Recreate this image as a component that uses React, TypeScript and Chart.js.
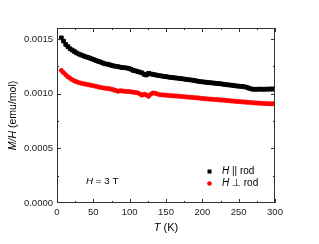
import React, { useEffect, useRef } from "react";
import { Chart, registerables } from "chart.js";

Chart.register(...registerables);

const temps = [6, 9, 12, 15, 18, 21, 24, 27, 30, 33, 36, 39, 42, 45, 48, 51, 54, 57, 60, 63, 66, 69, 72, 75, 78, 81, 84, 87, 90, 93, 96, 99, 102, 105, 108, 111, 114, 117, 120, 123, 126, 129, 132, 135, 138, 141, 144, 147, 150, 153, 156, 159, 162, 165, 168, 171, 174, 177, 180, 183, 186, 189, 192, 195, 198, 201, 204, 207, 210, 213, 216, 219, 222, 225, 228, 231, 234, 237, 240, 243, 246, 249, 252, 255, 258, 261, 264, 267, 270, 273, 276, 279, 282, 285, 288, 291, 294, 297, 300];

const parallelRod = [0.00151, 0.00148, 0.00145, 0.00143, 0.00141, 0.001398, 0.001385, 0.001372, 0.001362, 0.001354, 0.001346, 0.001338, 0.001332, 0.001325, 0.001318, 0.00131, 0.001302, 0.001295, 0.001288, 0.00128, 0.001272, 0.00127, 0.001265, 0.001258, 0.001253, 0.00125, 0.001246, 0.001242, 0.001238, 0.001237, 0.001234, 0.00123, 0.001222, 0.001212, 0.001208, 0.001202, 0.001196, 0.00119, 0.001176, 0.00117, 0.001186, 0.00118, 0.001176, 0.001172, 0.001168, 0.001164, 0.001161, 0.001158, 0.001155, 0.001152, 0.001149, 0.001147, 0.001144, 0.001142, 0.00114, 0.001137, 0.001134, 0.001131, 0.001128, 0.001126, 0.001123, 0.00112, 0.001116, 0.001112, 0.001109, 0.001107, 0.001105, 0.001102, 0.0011, 0.001098, 0.001096, 0.001094, 0.001092, 0.00109, 0.001087, 0.001084, 0.001081, 0.001079, 0.001077, 0.001074, 0.001071, 0.001069, 0.001067, 0.001066, 0.001062, 0.001058, 0.00105, 0.001044, 0.00104, 0.00104, 0.00104, 0.001041, 0.00104, 0.00104, 0.001041, 0.001041, 0.001042, 0.001042, 0.001043];

const perpRod = [0.001212, 0.001192, 0.001172, 0.001154, 0.00114, 0.001128, 0.001116, 0.001108, 0.001101, 0.001096, 0.001091, 0.001087, 0.001083, 0.001079, 0.001075, 0.001071, 0.001066, 0.001061, 0.001057, 0.001053, 0.00105, 0.001047, 0.001044, 0.00104, 0.001035, 0.001028, 0.001022, 0.001026, 0.001025, 0.001021, 0.00102, 0.001019, 0.001016, 0.001013, 0.00101, 0.001007, 0.000998, 0.000986, 0.000995, 0.000988, 0.000976, 0.000995, 0.001006, 0.001003, 0.000996, 0.000991, 0.000989, 0.000987, 0.000986, 0.000984, 0.000982, 0.00098, 0.000979, 0.000978, 0.000976, 0.000974, 0.000973, 0.00097, 0.000968, 0.000967, 0.000965, 0.000963, 0.000962, 0.00096, 0.000957, 0.000955, 0.000954, 0.000952, 0.00095, 0.000949, 0.000947, 0.000946, 0.000944, 0.000942, 0.000941, 0.00094, 0.000937, 0.000935, 0.000933, 0.000931, 0.000929, 0.000928, 0.000926, 0.000925, 0.000923, 0.000921, 0.00092, 0.000918, 0.000917, 0.000915, 0.000914, 0.000912, 0.000911, 0.00091, 0.000909, 0.000908, 0.000907, 0.000907, 0.000906];

const xTicks = [0, 50, 100, 150, 200, 250, 300];
const yTicks = [0, 0.0005, 0.001, 0.0015];
const legendLabels = [" || rod", " \u22a5 rod"];
const fieldLabel = " = 3 T";

const FONT = "'Liberation Sans', Arial, sans-serif";

function drawMixed(ctx: CanvasRenderingContext2D, parts: [string, boolean][], x: number, y: number, size: number, align: "left" | "center") {
  let total = 0;
  for (const [t, it] of parts) {
    ctx.font = `${it ? "italic " : ""}${size}px ${FONT}`;
    total += ctx.measureText(t).width;
  }
  let cx = align === "center" ? x - total / 2 : x;
  for (const [t, it] of parts) {
    ctx.font = `${it ? "italic " : ""}${size}px ${FONT}`;
    ctx.textAlign = "left";
    ctx.textBaseline = "middle";
    ctx.fillText(t, cx, y);
    cx += ctx.measureText(t).width;
  }
}

const framePlugin = {
  id: "frame",
  afterDraw(chart: any) {
    const { ctx, chartArea: a, scales } = chart;
    const xs = scales.x;
    const ys = scales.y;
    ctx.save();
    ctx.strokeStyle = "#333";
    ctx.lineWidth = 1;
    ctx.strokeRect(Math.round(a.left) + 0.5, Math.round(a.top) + 0.5, Math.round(a.right - a.left) - 1, Math.round(a.bottom - a.top) - 1);
    ctx.beginPath();
    const xMin: number[] = [];
    for (let i = 0; i < xTicks.length - 1; i++) xMin.push((xTicks[i] + xTicks[i + 1]) / 2);
    const yMin: number[] = [];
    for (let i = 0; i < yTicks.length; i++) yMin.push(yTicks[i] + 0.00025);
    const drawX = (v: number, len: number) => {
      const px = Math.round(xs.getPixelForValue(v)) + 0.5;
      ctx.moveTo(px, a.bottom);
      ctx.lineTo(px, a.bottom - len);
      ctx.moveTo(px, a.top);
      ctx.lineTo(px, a.top + len);
    };
    const drawY = (v: number, len: number) => {
      const py = Math.round(ys.getPixelForValue(v)) + 0.5;
      if (py < a.top || py > a.bottom) return;
      ctx.moveTo(a.left, py);
      ctx.lineTo(a.left + len, py);
      ctx.moveTo(a.right, py);
      ctx.lineTo(a.right - len, py);
    };
    xTicks.forEach((v) => drawX(v, 4));
    xMin.forEach((v) => drawX(v, 2));
    yTicks.forEach((v) => drawY(v, 4));
    yMin.forEach((v) => drawY(v, 2));
    ctx.stroke();

    ctx.fillStyle = "#000";
    drawMixed(ctx, [["T", true], [" (K)", false]], (a.left + a.right) / 2, 228, 11, "center");
    ctx.save();
    ctx.translate(13, (a.top + a.bottom) / 2);
    ctx.rotate(-Math.PI / 2);
    drawMixed(ctx, [["M/H", true], [" (emu/mol)", false]], 0, 0, 10.5, "center");
    ctx.restore();

    ctx.fillStyle = "#000";
    ctx.fillRect(207.5, 169.5, 4, 4);
    ctx.beginPath();
    ctx.fillStyle = "#ff0000";
    ctx.arc(209.5, 183.5, 2.3, 0, Math.PI * 2);
    ctx.fill();
    ctx.fillStyle = "#000";
    drawMixed(ctx, [["H", true], [legendLabels[0], false]], 222, 171.5, 10, "left");
    drawMixed(ctx, [["H", true], [legendLabels[1], false]], 222, 183.5, 10, "left");
    drawMixed(ctx, [["H", true], [fieldLabel, false]], 86, 181, 9.8, "left");
    ctx.restore();
  },
};

export default function App() {
  const ref = useRef<HTMLCanvasElement | null>(null);
  useEffect(() => {
    if (!ref.current) return;
    const chart = new Chart(ref.current, {
      type: "line",
      data: {
        datasets: [
          {
            label: "H || rod",
            data: temps.map((t, i) => ({ x: t, y: parallelRod[i] })),
            showLine: false,
            pointStyle: "rect",
            pointRadius: 2.6,
            borderWidth: 1,
            backgroundColor: "#000",
            borderColor: "#000",
          },
          {
            label: "H \u22a5 rod",
            data: temps.map((t, i) => ({ x: t, y: perpRod[i] })),
            showLine: false,
            pointStyle: "circle",
            pointRadius: 2.2,
            borderWidth: 0.5,
            backgroundColor: "#ff0000",
            borderColor: "#ff0000",
          },
        ],
      },
      options: {
        animation: false,
        responsive: true,
        maintainAspectRatio: false,
        layout: { padding: { top: 28, right: 44, left: 0, bottom: 0 } },
        plugins: { legend: { display: false }, tooltip: { enabled: false } },
        scales: {
          x: {
            type: "linear",
            min: 0,
            max: 300,
            afterBuildTicks: (s: any) => {
              s.ticks = xTicks.map((v) => ({ value: v }));
            },
            afterFit: (s: any) => {
              s.height = 41;
            },
            grid: { display: false, drawTicks: false, tickLength: 0 },
            border: { display: false },
            ticks: {
              padding: 4,
              maxRotation: 0,
              autoSkip: false,
              color: "#222",
              font: { family: FONT, size: 9.5 },
            },
          },
          y: {
            type: "linear",
            min: 0,
            max: 0.0016,
            afterBuildTicks: (s: any) => {
              s.ticks = yTicks.map((v) => ({ value: v }));
            },
            afterFit: (s: any) => {
              s.width = 57;
            },
            grid: { display: false, drawTicks: false, tickLength: 0 },
            border: { display: false },
            ticks: {
              padding: 4,
              autoSkip: false,
              color: "#222",
              font: { family: FONT, size: 9.5 },
              callback: (v: any) => Number(v).toFixed(4),
            },
          },
        },
      },
      plugins: [framePlugin],
    });
    return () => chart.destroy();
  }, []);
  return (
    <div style={{ position: "fixed", left: 0, top: 0, width: 319, height: 244, background: "#fff" }}>
      <canvas ref={ref} />
    </div>
  );
}
